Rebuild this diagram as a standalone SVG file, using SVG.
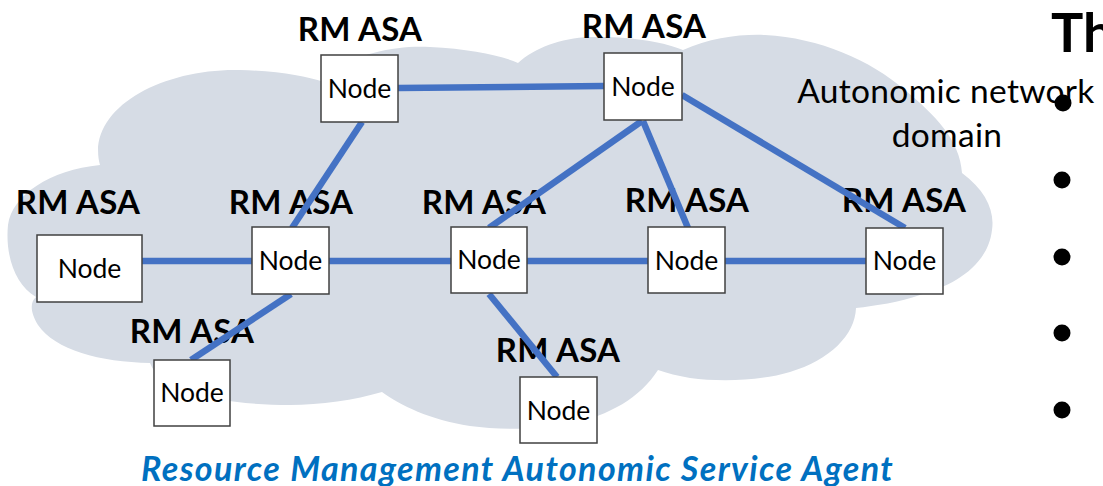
<svg xmlns="http://www.w3.org/2000/svg" width="1103" height="486" viewBox="0 0 1103 486">
  <style>
    .cloud { fill: #D6DCE5; stroke: none; }
    .link { stroke: #4472C4; stroke-width: 6.5; fill: none; stroke-linecap: butt; }
    .box { fill: #FFFFFF; stroke: #404040; stroke-width: 1.5; }
    .node-label { font-family: Lato, "Liberation Sans", sans-serif; font-size: 26.5px; fill: #000000; text-anchor: middle; }
    .agent { font-family: Lato, "Liberation Sans", sans-serif; font-weight: bold; font-size: 33px; letter-spacing: 0.3px; fill: #000000; text-anchor: middle; }
    .domain { font-family: Lato, "Liberation Sans", sans-serif; font-size: 33.5px; letter-spacing: 0.3px; fill: #000000; text-anchor: middle; }
    .caption { font-family: Lato, "Liberation Sans", sans-serif; font-weight: bold; font-style: italic; font-size: 34px; letter-spacing: 1.4px; fill: #0070C0; }
    .title { font-family: Lato, "Liberation Sans", sans-serif; font-weight: bold; font-size: 54px; fill: #000000; }
    .bullet { fill: #000000; }
  </style>

  <!-- network domain cloud -->
  <g id="cloud">
    <path class="cloud" d="M 100,165
      C 85,110 160,68 240,70 C 280,71 305,76 324,82
      L 330,72 C 360,52 400,45 430,47 C 470,49 500,55 518,63
      C 535,48 560,38 590,37 C 630,36 665,42 683,50
      C 710,38 740,34 765,35 C 820,38 870,60 905,90 C 935,115 960,140 962,173
      C 985,190 995,210 992,230 C 988,265 955,285 920,295 C 900,302 875,306 856,308
      C 855,335 830,360 790,372 C 760,381 720,382 690,378 C 678,376 667,373 658,370
      C 640,398 610,415 570,424 C 540,430 500,430 470,426 C 430,420 400,405 382,392
      C 355,400 320,405 290,405 C 250,405 210,400 180,390 C 165,385 155,375 150,363
      C 100,362 55,350 38,325 C 30,312 30,302 36,297
      C 15,285 5,255 8,225 C 12,195 50,170 100,165 Z"/>
  </g>

  <!-- domain label -->
  <g id="domain-label">
    <text class="domain" x="946" y="103">Autonomic network</text>
    <text class="domain" x="947" y="147">domain</text>
  </g>

  <!-- agent labels -->
  <g id="agent-labels">
    <text class="agent" x="360" y="41">RM ASA</text>
    <text class="agent" x="644" y="38">RM ASA</text>
    <text class="agent" x="78" y="214">RM ASA</text>
    <text class="agent" x="291" y="214">RM ASA</text>
    <text class="agent" x="484" y="214">RM ASA</text>
    <text class="agent" x="687" y="212">RM ASA</text>
    <text class="agent" x="904" y="212">RM ASA</text>
    <text class="agent" x="192" y="343">RM ASA</text>
    <text class="agent" x="558" y="362">RM ASA</text>
  </g>

  <!-- links between nodes -->
  <g id="connectors">
    <line class="link" x1="398" y1="88" x2="604" y2="86"/>
    <line class="link" x1="362" y1="122" x2="292" y2="228"/>
    <line class="link" x1="642" y1="121" x2="489" y2="228"/>
    <line class="link" x1="643" y1="121" x2="688" y2="228"/>
    <line class="link" x1="682" y1="95" x2="905" y2="228"/>
    <line class="link" x1="142" y1="261" x2="252" y2="261"/>
    <line class="link" x1="329" y1="261" x2="451" y2="261"/>
    <line class="link" x1="527" y1="261" x2="648" y2="261"/>
    <line class="link" x1="725" y1="261" x2="866" y2="261"/>
    <line class="link" x1="291" y1="294" x2="191" y2="360"/>
    <line class="link" x1="489" y1="294" x2="557" y2="377"/>
  </g>

  <!-- nodes -->
  <g id="node-top-left">
    <rect class="box" x="321" y="55" width="77" height="67"/>
    <text class="node-label" x="359.5" y="98">Node</text>
  </g>
  <g id="node-top-right">
    <rect class="box" x="604" y="53" width="78" height="67"/>
    <text class="node-label" x="643" y="96">Node</text>
  </g>
  <g id="node-far-left">
    <rect class="box" x="37" y="235" width="105" height="67"/>
    <text class="node-label" x="89.5" y="278">Node</text>
  </g>
  <g id="node-a">
    <rect class="box" x="252" y="227" width="77" height="67"/>
    <text class="node-label" x="290.5" y="270">Node</text>
  </g>
  <g id="node-b">
    <rect class="box" x="451" y="227" width="76" height="66"/>
    <text class="node-label" x="489" y="269">Node</text>
  </g>
  <g id="node-c">
    <rect class="box" x="648" y="227" width="77" height="66"/>
    <text class="node-label" x="686.5" y="270">Node</text>
  </g>
  <g id="node-d">
    <rect class="box" x="866" y="228" width="77" height="66"/>
    <text class="node-label" x="904.5" y="270">Node</text>
  </g>
  <g id="node-lower-left">
    <rect class="box" x="154" y="360" width="76" height="66"/>
    <text class="node-label" x="192" y="402">Node</text>
  </g>
  <g id="node-bottom">
    <rect class="box" x="520" y="377" width="77" height="66"/>
    <text class="node-label" x="558.5" y="420">Node</text>
  </g>

  <!-- caption -->
  <text class="caption" x="141" y="481">Resource Management Autonomic Service Agent</text>

  <!-- side heading and bullet list -->
  <text class="title" x="1051" y="52">Th</text>
  <g id="bullets">
    <circle class="bullet" cx="1063" cy="103" r="8.5"/>
    <circle class="bullet" cx="1062" cy="180" r="8.5"/>
    <circle class="bullet" cx="1062" cy="257" r="8.5"/>
    <circle class="bullet" cx="1062" cy="333" r="8.5"/>
    <circle class="bullet" cx="1062" cy="410" r="8.5"/>
  </g>
</svg>
